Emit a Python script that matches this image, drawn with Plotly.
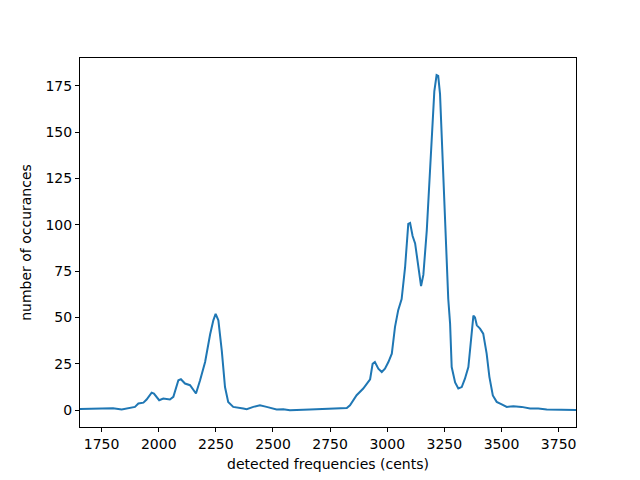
import plotly.graph_objects as go

cents = [1655.5, 1743, 1800, 1838, 1874, 1896, 1911, 1933, 1947, 1969, 1979, 2002, 2020, 2049, 2064,
         2086, 2097, 2115, 2137, 2151, 2163, 2181, 2203, 2225, 2239, 2249, 2261, 2276, 2290, 2304,
         2326, 2370, 2385, 2414, 2443, 2472, 2516, 2545, 2567, 2574, 2662, 2750, 2779, 2823, 2837,
         2866, 2895, 2925, 2936, 2946, 2961, 2976, 2990, 3005, 3020, 3034, 3048, 3063, 3078, 3092,
         3100, 3111, 3122, 3136, 3148, 3158, 3173, 3184, 3195, 3206, 3216, 3223, 3231, 3238, 3250,
         3260, 3267, 3275, 3282, 3297, 3311, 3326, 3340, 3355, 3365, 3377, 3384, 3392, 3406, 3420,
         3435, 3447, 3462, 3479, 3501, 3523, 3552, 3588, 3625, 3661, 3698, 3770, 3826]
counts = [0.7, 0.9, 1.1, 0.4, 1.5, 1.8, 3.6, 4.1, 5.8, 9.5, 9.0, 5.4, 6.3, 5.8, 7.2,
          16.2, 16.7, 14.4, 13.5, 10.8, 9.0, 16.2, 26, 41, 48.5, 52, 48.5, 32, 12.5, 4.5,
          1.8, 0.9, 0.5, 1.8, 2.7, 1.8, 0.4, 0.5, 0.0, 0.0, 0.4, 0.9, 0.9, 1.2, 2.7,
          8.1, 11.7, 16.7, 25, 26, 22.4, 20.6, 22.4, 26, 30.5, 45, 54, 60, 77, 100.5,
          101, 94, 90, 77, 67, 73, 97, 122, 151, 172, 180.8, 180.4, 170.5, 149, 113,
          82.5, 60, 46.7, 23.3, 15, 11.7, 12.5, 17, 23.3, 37.7, 51, 50, 45.8, 44, 41.3,
          30.5, 18, 8, 4.5, 3.2, 1.8, 2.2, 1.8, 0.9, 0.9, 0.4, 0.3, 0.1]

x_ticks = [1750, 2000, 2250, 2500, 2750, 3000, 3250, 3500, 3750]
y_ticks = [0, 25, 50, 75, 100, 125, 150, 175]

fig = go.Figure()
fig.add_trace(go.Scatter(x=cents, y=counts, mode="lines",
                         line=dict(color="#1f77b4", width=2), showlegend=False))

axis_common = dict(showline=True, linecolor="black", linewidth=1, mirror=True,
                   ticks="outside", ticklen=4, tickwidth=1, tickcolor="black",
                   showgrid=False, zeroline=False, automargin=False,
                   tickfont=dict(family="DejaVu Sans", size=14, color="black"))

fig.update_layout(
    width=640, height=480,
    margin=dict(l=72, r=72, t=50, b=61),
    paper_bgcolor="white", plot_bgcolor="white",
    font=dict(family="DejaVu Sans", size=14, color="black"),
    xaxis=dict(range=[1655.5, 3826], tickvals=x_ticks,
               title=dict(text="detected frequencies (cents)", standoff=8,
                          font=dict(family="DejaVu Sans", size=14)),
               **axis_common),
    yaxis=dict(range=[-9.05, 190], tickvals=y_ticks,
               title=dict(text="number of occurances", standoff=10,
                          font=dict(family="DejaVu Sans", size=14)),
               **axis_common),
)

fig.write_html("out.html")
